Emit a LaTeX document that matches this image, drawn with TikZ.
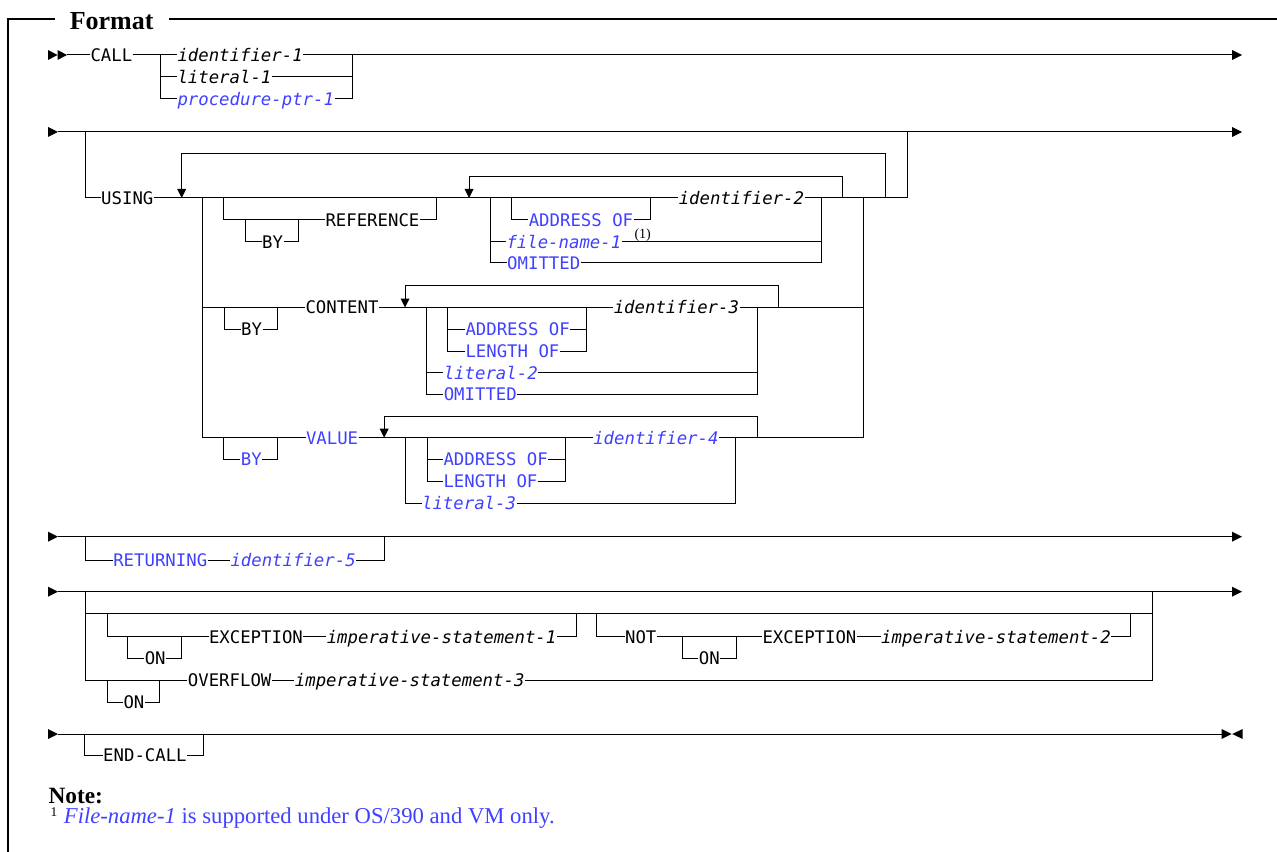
\documentclass[tikz,border=0pt]{standalone}
\usepackage{fontspec}
\setmainfont{Liberation Serif}
\newfontfamily\mono{DejaVu Sans Mono}
\definecolor{ibmblue}{RGB}{64,64,255}
\begin{document}
\begin{tikzpicture}[x=0.75pt,y=-0.75pt,line width=0.75pt]
\useasboundingbox (0,0) rectangle (1277,852);
\tikzset{
 kw/.style={anchor=west,inner sep=0pt,text height=9.5pt,text depth=0pt,font={\fontsize{13}{13}\mono}},
 var/.style={kw,font={\fontsize{13}{13}\mono\itshape}},
 bkw/.style={kw,text=ibmblue},
 bvar/.style={var,text=ibmblue},
 tipfill/.style={fill=black,draw=none},
}
% frame
\draw[line width=1.3pt] (8.3,852) -- (8.3,19.3) -- (55,19.3);
\draw[line width=1.3pt] (169.3,19.3) -- (1277,19.3);
\node[anchor=base west,inner sep=0pt,text depth=0pt,font={\fontsize{19.5}{19.5}\selectfont\bfseries}] (fmt) at (69.3,29.3) {Format};

% ---------- row 1
\fill[tipfill] (48,50) -- (57.5,55) -- (48,60) -- cycle;
\fill[tipfill] (57.5,50) -- (67,55) -- (57.5,60) -- cycle;
\node[kw] (call) at (90,55) {CALL};
\node[var] (id1) at (177,55) {identifier-1};
\node[var] (lit1) at (177,77) {literal-1};
\node[bvar] (proc) at (177,99) {procedure-ptr-1};
\draw (67,55) -- (call.west);
\draw (call.east) -- (id1.west);
\draw (160,55) |- (lit1.west);
\draw (160,77) |- (proc.west);
\draw (id1.east) -- (1232,55);
\draw (lit1.east) -- (352,77);
\draw (proc.east) -| (352,55);
\fill[tipfill] (1232,50) -- (1242,55) -- (1232,60) -- cycle;

% ---------- row 2
\fill[tipfill] (48,127) -- (58,132) -- (48,137) -- cycle;
\draw (58,132) -- (1232,132);
\fill[tipfill] (1232,127) -- (1242,132) -- (1232,137) -- cycle;
\node[kw] (using) at (100.7,198) {USING};
\draw (85,132) |- (using.west);
\node[var] (id2) at (678.3,198) {identifier-2};
\draw (using.east) -- (id2.west);
\draw (id2.east) -| (907,132);
\draw (885,198) |- (181.7,154) -- (181.7,190);
\fill[tipfill] (177.2,189) -- (186.2,189) -- (181.7,198) -- cycle;
% reference
\node[kw] (ref) at (325,220) {REFERENCE};
\node[kw] (byr) at (261.7,241.7) {BY};
\draw (223.3,198) |- (ref.west);
\draw (245,220) |- (byr.west);
\draw (byr.east) -| (298.3,220);
\draw (ref.east) -| (436.7,198);
\draw (842.7,198) |- (469,176.7) -- (469,190);
\fill[tipfill] (464.5,189) -- (473.5,189) -- (469,198) -- cycle;
\node[bkw] (ao1) at (528.3,220) {ADDRESS OF};
\draw (511.7,198) |- (ao1.west);
\draw (ao1.east) -| (650,198);
\node[bvar] (fn1) at (506,241.7) {file-name-1};
\node[bkw] (om1) at (506.7,262.7) {OMITTED};
\draw (490.7,198) |- (om1.west);
\draw (490.7,241.7) -- (fn1.west);
\draw (fn1.east) -- (821,241.7);
\draw (om1.east) -| (821,198);
\node[anchor=west,inner sep=0pt,font={\fontsize{10.5}{10.5}\selectfont}] (fnref) at (634,235.5) {(1)};
\draw (863.3,198) -- (863.3,437.7);

% content
\node[kw] (content) at (305,307.5) {CONTENT};
\draw (202.3,307.5) -- (content.west);
\node[kw] (byc) at (240.7,329.3) {BY};
\draw (224,307.5) |- (byc.west);
\draw (byc.east) -| (277.3,307.5);
\node[var] (id3) at (613.3,307.5) {identifier-3};
\draw (content.east) -- (id3.west);
\draw (id3.east) -- (863.3,307.5);
\draw (778.3,307.5) |- (405,285) -- (405,299);
\fill[tipfill] (400.5,298.5) -- (409.5,298.5) -- (405,307.5) -- cycle;
\node[bkw] (ao2) at (465,329.3) {ADDRESS OF};
\node[bkw] (lo2) at (465,351) {LENGTH OF};
\draw (447.7,307.5) |- (lo2.west);
\draw (447.7,329.3) -- (ao2.west);
\draw (ao2.east) -- (586.7,329.3);
\draw (lo2.east) -| (586.7,307.5);
\node[bvar] (lit2) at (443.3,372.7) {literal-2};
\node[bkw] (om2) at (443.3,394.3) {OMITTED};
\draw (426.7,307.5) |- (om2.west);
\draw (426.7,372.7) -- (lit2.west);
\draw (lit2.east) -- (757.3,372.7);
\draw (om2.east) -| (757.3,307.5);

% value
\node[bkw] (value) at (305.5,437.7) {VALUE};
\draw (202.3,198) |- (value.west);
\node[bkw] (byv) at (240.4,459.5) {BY};
\draw (223.8,437.7) |- (byv.west);
\draw (byv.east) -| (277.3,437.7);
\node[bvar] (id4) at (592.8,437.7) {identifier-4};
\draw (value.east) -- (id4.west);
\draw (id4.east) -- (863.3,437.7);
\draw (757.4,437.7) |- (384.2,416) -- (384.2,429);
\fill[tipfill] (379.7,428.7) -- (388.7,428.7) -- (384.2,437.7) -- cycle;
\node[bkw] (ao3) at (443,459.5) {ADDRESS OF};
\node[bkw] (lo3) at (443,481.2) {LENGTH OF};
\draw (427,437.7) |- (lo3.west);
\draw (427,459.5) -- (ao3.west);
\draw (ao3.east) -- (565.4,459.5);
\draw (lo3.east) -| (565.4,437.7);
\node[bvar] (lit3) at (421.6,503.1) {literal-3};
\draw (405.8,437.7) |- (lit3.west);
\draw (lit3.east) -| (735.8,437.7);

% ---------- row 3
\fill[tipfill] (48,531.7) -- (58,536.7) -- (48,541.7) -- cycle;
\draw (58,536.7) -- (1232,536.7);
\fill[tipfill] (1232,531.7) -- (1242,536.7) -- (1232,541.7) -- cycle;
\node[bkw] (ret) at (112.8,560) {RETURNING};
\node[bvar] (id5) at (230,560) {identifier-5};
\draw (85,536.7) |- (ret.west);
\draw (ret.east) -- (id5.west);
\draw (id5.east) -| (384.5,536.7);

% ---------- row 4
\fill[tipfill] (48,586.7) -- (58,591.7) -- (48,596.7) -- cycle;
\draw (58,591.7) -- (1232,591.7);
\fill[tipfill] (1232,586.7) -- (1242,591.7) -- (1232,596.7) -- cycle;
\node[kw] (ovf) at (187.4,680) {OVERFLOW};
\node[var] (imp3) at (294.4,680) {imperative-statement-3};
\draw (85,591.7) |- (ovf.west);
\draw (ovf.east) -- (imp3.west);
\draw (imp3.east) -| (1152,591.7);
\draw (85,613.3) -- (1152,613.3);
\node[kw] (on3) at (123,702.3) {ON};
\draw (107,680) |- (on3.west);
\draw (on3.east) -| (159.6,680);
\node[kw] (exc1) at (208.5,636.7) {EXCEPTION};
\node[var] (imp1) at (326.3,636.7) {imperative-statement-1};
\draw (107,613.3) |- (exc1.west);
\draw (exc1.east) -- (imp1.west);
\draw (imp1.east) -| (576.3,613.3);
\node[kw] (on1) at (144.3,658.3) {ON};
\draw (127.7,636.7) |- (on1.west);
\draw (on1.east) -| (181.6,636.7);
\node[kw] (not) at (624.6,636.7) {NOT};
\node[kw] (exc2) at (762,636.7) {EXCEPTION};
\node[var] (imp2) at (880.7,636.7) {imperative-statement-2};
\draw (596.2,613.3) |- (not.west);
\draw (not.east) -- (exc2.west);
\draw (exc2.east) -- (imp2.west);
\draw (imp2.east) -| (1130.2,613.3);
\node[kw] (on2) at (698.4,658.5) {ON};
\draw (682,636.7) |- (on2.west);
\draw (on2.east) -| (736,636.7);

% ---------- row 5
\fill[tipfill] (48,729) -- (58,734) -- (48,739) -- cycle;
\draw (58,734) -- (1222,734);
\fill[tipfill] (1221.7,729) -- (1231.7,734) -- (1221.7,739) -- cycle;
\fill[tipfill] (1242.7,729) -- (1232.2,734) -- (1242.7,739) -- cycle;
\node[kw] (endc) at (102.7,755) {END-CALL};
\draw (84.5,734) |- (endc.west);
\draw (endc.east) -| (203,734);

% notes
\node[anchor=base west,inner sep=0pt,text depth=0pt,font={\fontsize{17.5}{17.5}\selectfont\bfseries}] (note) at (48,803.3) {Note:};
\node[anchor=base west,inner sep=0pt,text depth=0pt,text height=6.5pt,font={\fontsize{10}{10}\selectfont}] (fnum) at (50,816.5) {1};
\node[anchor=base west,inner sep=0pt,text height=11.5pt,text=ibmblue,font={\fontsize{17}{17}\selectfont}] (fntext) at (63.4,823.3) {\textit{File-name-1} is supported under OS/390 and VM only.};
\end{tikzpicture}
\end{document}
